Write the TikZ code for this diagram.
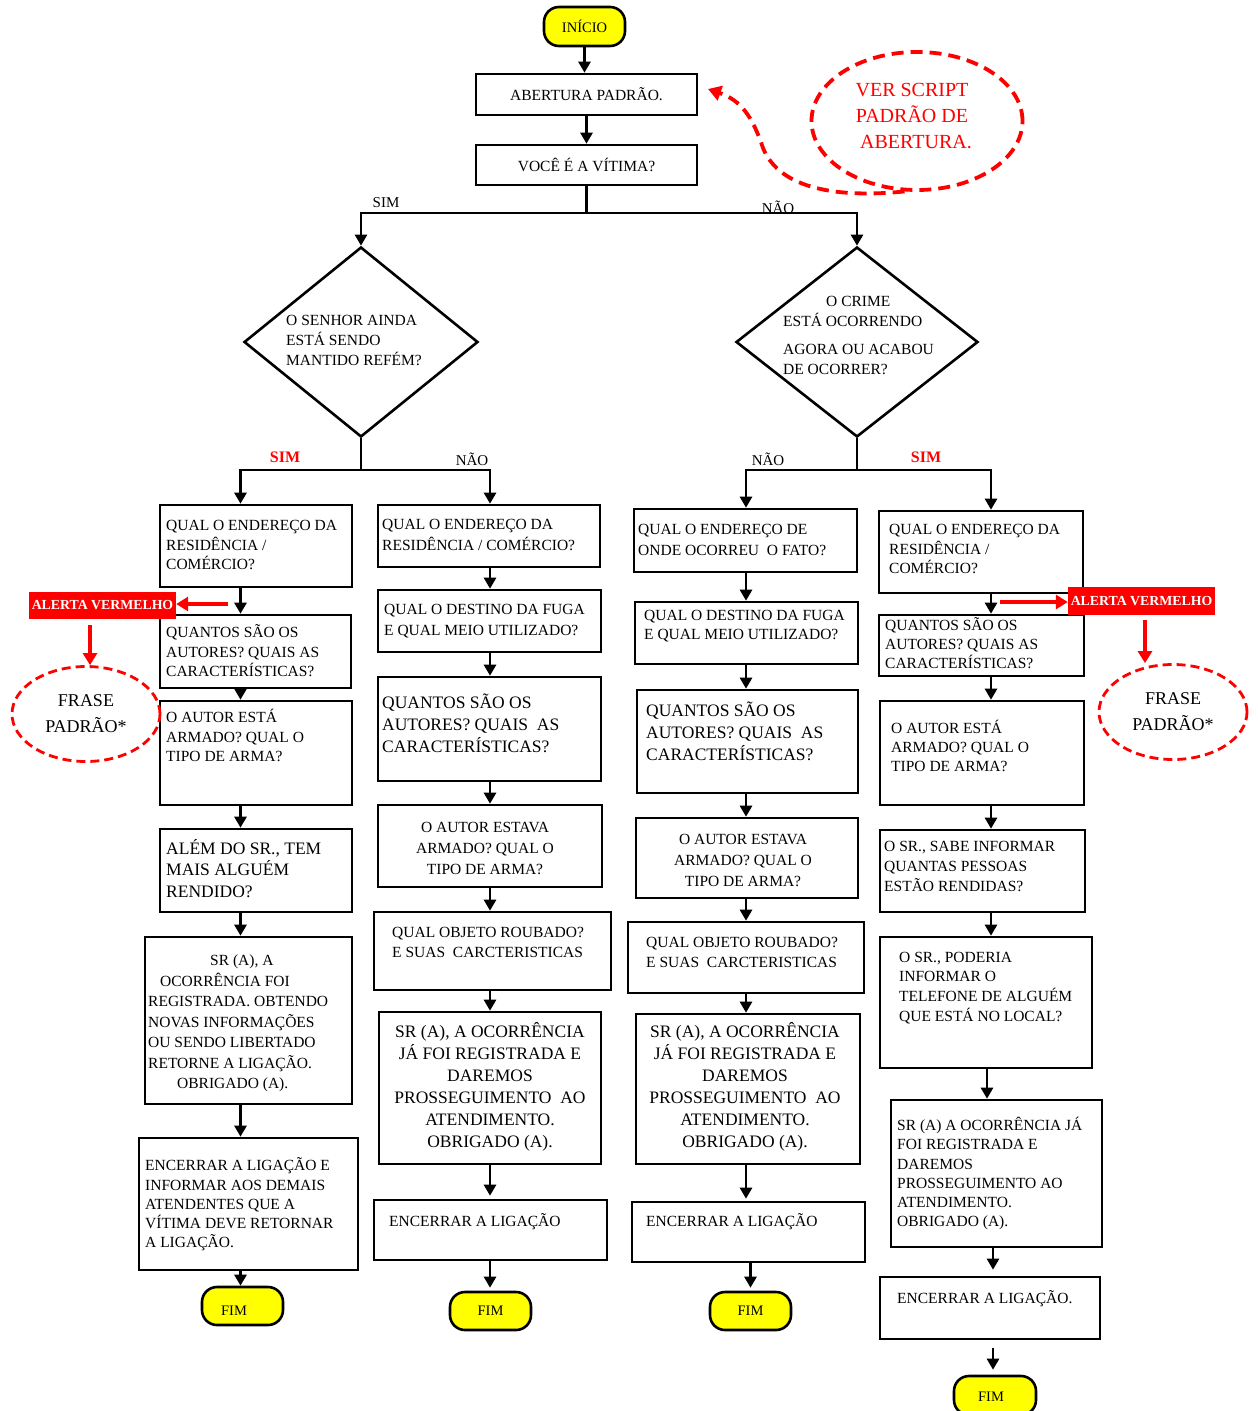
\documentclass[tikz,border=0pt]{standalone}
\usepackage{fontspec}
\setmainfont{Liberation Serif}
\usetikzlibrary{arrows.meta,shapes.geometric}
\definecolor{rd}{RGB}{255,0,0}
\definecolor{yl}{RGB}{255,255,0}
\newcommand\myfs[2]{\fontsize{#1}{#2}\selectfont}
\begin{document}
\begin{tikzpicture}[x=1pt,y=-1pt,
  box/.style={draw,line width=2.6pt,inner sep=0,rectangle},
  term/.style={draw,line width=2.6pt,fill=yl,rounded corners=15pt,inner sep=0,font=\myfs{14.5}{16}},
  tx/.style={inner sep=0,anchor=north west,align=left},
  txc/.style={inner sep=0,anchor=north,align=center},
  ln/.style={line width=2.6pt},
  arr/.style={line width=2.6pt,-{Triangle[length=11pt,width=12pt]}},
  rarr/.style={line width=3.2pt,draw=rd,-{Triangle[length=12pt,width=14pt]}},
  lab/.style={inner sep=0,font=\myfs{15}{18}},
  rlab/.style={inner sep=0,text=rd,font=\myfs{16}{18}\bfseries},
  dia/.style={draw,diamond,line width=2.6pt,inner sep=0},
  alert/.style={fill=rd,inner sep=0,text=white,font=\myfs{13.8}{16}\bfseries},
  frase/.style={draw=rd,ellipse,line width=2.8pt,dash pattern=on 9pt off 5pt,inner sep=0,align=center,font=\myfs{18}{26}},
]
\useasboundingbox (0,0) rectangle (1258,1411);

% ---------- top ----------
\node[term,minimum width=81pt,minimum height=39pt] (ini) at (584.5,26.5) {INÍCIO};
\node[box,minimum width=221pt,minimum height=41pt,font=\myfs{15.5}{19}] (ab) at (586.5,94.5) {ABERTURA PADRÃO.};
\node[box,minimum width=221pt,minimum height=40pt,font=\myfs{15.5}{19}] (vc) at (586.5,165) {VOCÊ É A VÍTIMA?};

\node[draw=rd,ellipse,line width=3.8pt,dash pattern=on 12pt off 7pt,minimum width=211pt,minimum height=138pt,inner sep=0] (vs) at (917,121) {};
\node[inner sep=0,text=rd,align=center,font=\myfs{20}{26}] (tvs) at (912,116) {VER SCRIPT\\PADRÃO DE\\\hspace*{8pt}ABERTURA.};
\coordinate (tipab) at (708,89);
\draw[draw=rd,line width=3.8pt,dash pattern=on 12pt off 7pt,-{Triangle[length=13pt,width=15pt]}]
  (vs.-100) .. controls (840,198) and (780,190) .. (763,148) .. controls (752,115) and (740,100) .. (tipab);

\coordinate (j1) at (586.5,213);
\draw[arr] (ini.south) -- (ini.south |- ab.north);
\draw[arr] (ab.south) -- (vc.north);
\draw[ln] (vc.south) -- (j1);
\node[dia,minimum width=234pt,minimum height=190pt] (dl) at (361,342) {};
\node[dia,minimum width=242pt,minimum height=190pt] (dr) at (857,342) {};
\draw[arr] (j1) -| (dl.north);
\draw[arr] (j1) -| (dr.north);
\node[lab] (lsim1) at (386,203) {SIM};
\node[lab] (lnao1) at (778,207) {NÃO};

\node[tx,font=\myfs{15.5}{20}] (tdl) at (286,311) {\strut O SENHOR AINDA\\ESTÁ SENDO\\MANTIDO REFÉM?};
\node[tx,font=\myfs{15.5}{20}] (tdr1) at (783,292) {\strut\hspace*{43pt}O CRIME\\ESTÁ OCORRENDO};
\node[tx,font=\myfs{15.5}{20}] (tdr2) at (783,340) {\strut AGORA OU ACABOU\\DE OCORRER?};

% column coordinates
\coordinate (c1) at (240.5,0);
\coordinate (c2) at (490,0);
\coordinate (c3) at (746,0);
\coordinate (c4) at (991,0);
\coordinate (c4b) at (987,0);
\coordinate (c4c) at (993,0);
\coordinate (j2) at (361,470);
\coordinate (j3) at (857,470);

\draw[ln] (dl.south) -- (j2);
\draw[ln] (dr.south) -- (j3);
\node[rlab] (lsim2) at (285,457) {SIM};
\node[lab] (lnao2) at (472,459) {NÃO};
\node[lab] (lnao3) at (768,459) {NÃO};
\node[rlab] (lsim3) at (926,457) {SIM};

% ---------- column 1 ----------
\node[box,minimum width=192pt,minimum height=82pt] (b1a) at (256,546) {};
\node[box,minimum width=191pt,minimum height=73pt] (b1b) at (255.5,651.5) {};
\node[box,minimum width=192pt,minimum height=104pt] (b1c) at (256,753) {};
\node[box,minimum width=192pt,minimum height=83pt] (b1d) at (256,870.5) {};
\node[box,minimum width=207pt,minimum height=167pt] (b1e) at (248.5,1020.5) {};
\node[box,minimum width=219pt,minimum height=132pt] (b1f) at (248.5,1204) {};
\node[term,minimum width=81pt,minimum height=38pt] (f1) at (242.5,1306) {};
\node[inner sep=0,font=\myfs{14.5}{16}] (tf1) at (234,1311) {FIM};

\node[tx,font=\myfs{15.5}{19.5}] (t1a) at (166,517) {\strut QUAL O ENDEREÇO DA\\RESIDÊNCIA /\\COMÉRCIO?};
\node[tx,font=\myfs{15.5}{19.5}] (t1b) at (166,624) {\strut QUANTOS SÃO OS\\AUTORES? QUAIS AS\\CARACTERÍSTICAS?};
\node[tx,font=\myfs{15.5}{19.5}] (t1c) at (166,709) {\strut O AUTOR ESTÁ\\ARMADO? QUAL O\\TIPO DE ARMA?};
\node[tx,font=\myfs{17.5}{21.5}] (t1d) at (166,839) {\strut ALÉM DO SR., TEM\\MAIS ALGUÉM\\RENDIDO?};
\node[tx,font=\myfs{15.5}{20.5}] (t1e) at (148,951) {\strut\hspace*{62pt}SR (A), A\\\hspace*{12pt}OCORRÊNCIA FOI\\REGISTRADA. OBTENDO\\NOVAS INFORMAÇÕES\\OU SENDO LIBERTADO\\RETORNE A LIGAÇÃO.\\\hspace*{29pt}OBRIGADO (A).};
\node[tx,font=\myfs{15.5}{19.3}] (t1f) at (145,1157) {\strut ENCERRAR A LIGAÇÃO E\\INFORMAR AOS DEMAIS\\ATENDENTES QUE A\\VÍTIMA DEVE RETORNAR\\A LIGAÇÃO.};

\draw[arr] (j2) -| (b1a.north -| c1);
\draw[arr] (b1a.south -| c1) -- (b1b.north -| c1);
\draw[arr] (b1b.south -| c1) -- (b1c.north -| c1);
\draw[arr] (b1c.south -| c1) -- (b1d.north -| c1);
\draw[arr] (b1d.south -| c1) -- (b1e.north -| c1);
\draw[arr] (b1e.south -| c1) -- (b1f.north -| c1);
\draw[arr] (b1f.south -| c1) -- (f1.north -| c1);

% alert left
\node[alert,minimum width=147pt,minimum height=27pt] (alL) at (102.5,605.5) {ALERTA VERMELHO};
\node[frase,minimum width=148pt,minimum height=95pt] (frL) at (86,714) {FRASE\\PADRÃO*};
\coordinate (ra1) at (228,604);
\coordinate (ax1) at (90,0);
\draw[rarr] (ra1) -- (alL.east |- ra1);
\draw[rarr,shorten <=6pt] (alL.south -| ax1) -- (frL.north -| ax1);

% ---------- column 2 ----------
\node[box,minimum width=222pt,minimum height=62pt] (b2a) at (489,536) {};
\node[box,minimum width=223pt,minimum height=62pt] (b2b) at (489.5,621) {};
\node[box,minimum width=223pt,minimum height=104pt] (b2c) at (489.5,729) {};
\node[box,minimum width=224pt,minimum height=82pt] (b2d) at (490,846) {};
\node[box,minimum width=237pt,minimum height=78pt] (b2e) at (492.5,951) {};
\node[box,minimum width=222pt,minimum height=152pt] (b2f) at (490,1088) {};
\node[box,minimum width=233pt,minimum height=60pt] (b2g) at (490.5,1230) {};
\node[term,minimum width=81pt,minimum height=38pt] (f2) at (490.5,1311) {FIM};

\node[tx,font=\myfs{15.5}{20.5}] (t2a) at (382,515) {\strut QUAL O ENDEREÇO DA\\RESIDÊNCIA / COMÉRCIO?};
\node[tx,font=\myfs{15.5}{21}] (t2b) at (384,600) {\strut QUAL O DESTINO DA FUGA\\E QUAL MEIO UTILIZADO?};
\node[tx,font=\myfs{17.5}{22}] (t2c) at (382,693) {\strut QUANTOS SÃO OS\\AUTORES? QUAIS~~AS\\CARACTERÍSTICAS?};
\node[txc,font=\myfs{15.5}{21}] (t2d) at (485,818) {\strut O AUTOR ESTAVA\\ARMADO? QUAL O\\TIPO DE ARMA?};
\node[tx,font=\myfs{15.5}{20}] (t2e) at (392,923) {\strut QUAL OBJETO ROUBADO?\\E SUAS~~CARCTERISTICAS};
\node[txc,font=\myfs{17.5}{22}] (t2f) at (490,1022) {\strut SR (A), A OCORRÊNCIA\\JÁ FOI REGISTRADA E\\DAREMOS\\PROSSEGUIMENTO~~AO\\ATENDIMENTO.\\OBRIGADO (A).};
\node[inner sep=0,anchor=west,font=\myfs{15.5}{19}] (t2g) at (389,1222) {ENCERRAR A LIGAÇÃO};

\draw[arr] (j2) -| (b2a.north -| c2);
\draw[arr] (b2a.south -| c2) -- (b2b.north -| c2);
\draw[arr] (b2b.south -| c2) -- (b2c.north -| c2);
\draw[arr] (b2c.south -| c2) -- (b2d.north -| c2);
\draw[arr] (b2d.south -| c2) -- (b2e.north -| c2);
\draw[arr] (b2e.south -| c2) -- (b2f.north -| c2);
\draw[arr,shorten >=3pt] (b2f.south -| c2) -- (b2g.north -| c2);
\draw[arr,shorten >=3pt] (b2g.south -| c2) -- (f2.north -| c2);

% ---------- column 3 ----------
\node[box,minimum width=223pt,minimum height=63pt] (b3a) at (745.5,540.5) {};
\node[box,minimum width=223pt,minimum height=62pt] (b3b) at (746.5,633) {};
\node[box,minimum width=221pt,minimum height=103pt] (b3c) at (747.5,741.5) {};
\node[box,minimum width=222pt,minimum height=80pt] (b3d) at (747,858) {};
\node[box,minimum width=236pt,minimum height=71pt] (b3e) at (746,957.5) {};
\node[box,minimum width=224pt,minimum height=150pt] (b3f) at (748,1089) {};
\node[box,minimum width=233pt,minimum height=60pt] (b3g) at (748.5,1232) {};
\node[term,minimum width=81pt,minimum height=38pt] (f3) at (750.5,1311) {FIM};

\node[tx,font=\myfs{15.5}{21}] (t3a) at (638,520) {\strut QUAL O ENDEREÇO DE\\ONDE OCORREU~~O FATO?};
\node[tx,font=\myfs{15.5}{19}] (t3b) at (644,607) {\strut QUAL O DESTINO DA FUGA\\E QUAL MEIO UTILIZADO?};
\node[tx,font=\myfs{17.5}{22}] (t3c) at (646,701) {\strut QUANTOS SÃO OS\\AUTORES? QUAIS~~AS\\CARACTERÍSTICAS?};
\node[txc,font=\myfs{15.5}{21}] (t3d) at (743,830) {\strut O AUTOR ESTAVA\\ARMADO? QUAL O\\TIPO DE ARMA?};
\node[tx,font=\myfs{15.5}{20}] (t3e) at (646,933) {\strut QUAL OBJETO ROUBADO?\\E SUAS~~CARCTERISTICAS};
\node[txc,font=\myfs{17.5}{22}] (t3f) at (745,1022) {\strut SR (A), A OCORRÊNCIA\\JÁ FOI REGISTRADA E\\DAREMOS\\PROSSEGUIMENTO~~AO\\ATENDIMENTO.\\OBRIGADO (A).};
\node[inner sep=0,anchor=west,font=\myfs{15.5}{19}] (t3g) at (646,1222) {ENCERRAR A LIGAÇÃO};

\draw[arr] (j3) -| (b3a.north -| c3);
\draw[arr] (b3a.south -| c3) -- (b3b.north -| c3);
\draw[arr] (b3b.south -| c3) -- (b3c.north -| c3);
\draw[arr] (b3c.south -| c3) -- (b3d.north -| c3);
\draw[arr] (b3d.south -| c3) -- (b3e.north -| c3);
\draw[arr] (b3e.south -| c3) -- (b3f.north -| c3);
\draw[arr,shorten >=2pt] (b3f.south -| c3) -- (b3g.north -| c3);
\draw[arr,shorten >=3pt] (b3g.south -| f3.north) -- (f3.north);

% ---------- column 4 ----------
\node[box,minimum width=204pt,minimum height=82pt] (b4a) at (981,552) {};
\node[box,minimum width=205pt,minimum height=61pt] (b4b) at (981.5,645.5) {};
\node[box,minimum width=204pt,minimum height=104pt] (b4c) at (982,753) {};
\node[box,minimum width=205pt,minimum height=82pt] (b4d) at (982.5,871) {};
\node[box,minimum width=212pt,minimum height=131pt] (b4e) at (986,1002.5) {};
\node[box,minimum width=211pt,minimum height=147pt] (b4f) at (996.5,1173.5) {};
\node[box,minimum width=220pt,minimum height=62pt] (b4g) at (990,1308) {};
\node[term,minimum width=82pt,minimum height=39pt] (f4) at (995,1395.5) {};
\node[inner sep=0,font=\myfs{14.5}{16}] (tf4) at (991,1397) {FIM};

\node[tx,font=\myfs{15.5}{19}] (t4a) at (889,521) {\strut QUAL O ENDEREÇO DA\\RESIDÊNCIA /\\COMÉRCIO?};
\node[tx,font=\myfs{15.5}{19}] (t4b) at (885,617) {\strut QUANTOS SÃO OS\\AUTORES? QUAIS AS\\CARACTERÍSTICAS?};
\node[tx,font=\myfs{15.5}{19}] (t4c) at (891,720) {\strut O AUTOR ESTÁ\\ARMADO? QUAL O\\TIPO DE ARMA?};
\node[tx,font=\myfs{15.5}{20}] (t4d) at (884,837) {\strut O SR., SABE INFORMAR\\QUANTAS PESSOAS\\ESTÃO RENDIDAS?};
\node[tx,font=\myfs{15.5}{19.7}] (t4e) at (899,948) {\strut O SR., PODERIA\\INFORMAR O\\TELEFONE DE ALGUÉM\\QUE ESTÁ NO LOCAL?};
\node[tx,font=\myfs{15.5}{19.2}] (t4f) at (897,1117) {\strut SR (A) A OCORRÊNCIA JÁ\\FOI REGISTRADA E\\DAREMOS\\PROSSEGUIMENTO AO\\ATENDIMENTO.\\OBRIGADO (A).};
\node[inner sep=0,anchor=west,font=\myfs{15.5}{19}] (t4g) at (897,1299) {ENCERRAR A LIGAÇÃO.};

\draw[arr] (j3) -| (b4a.north -| c4);
\draw[arr] (b4a.south -| c4) -- (b4b.north -| c4);
\draw[arr] (b4b.south -| c4) -- (b4c.north -| c4);
\draw[arr] (b4c.south -| c4) -- (b4d.north -| c4);
\draw[arr] (b4d.south -| c4) -- (b4e.north -| c4);
\draw[arr] (b4e.south -| c4b) -- (b4f.north -| c4b);
\draw[arr,shorten >=6pt] (b4f.south -| c4c) -- (b4g.north -| c4c);
\draw[arr,shorten <=8pt,shorten >=5pt] (b4g.south -| c4c) -- (f4.north -| c4c);

% alert right
\node[alert,minimum width=147pt,minimum height=28pt] (alR) at (1141.5,601) {ALERTA VERMELHO};
\node[frase,minimum width=148pt,minimum height=95pt] (frR) at (1173,712) {FRASE\\PADRÃO*};
\coordinate (ra2) at (1000,602);
\coordinate (ax2) at (1145,0);
\draw[rarr] (ra2) -- (alR.west |- ra2);
\draw[rarr,shorten <=5pt] (alR.south -| ax2) -- (frR.north -| ax2);
\end{tikzpicture}
\end{document}
